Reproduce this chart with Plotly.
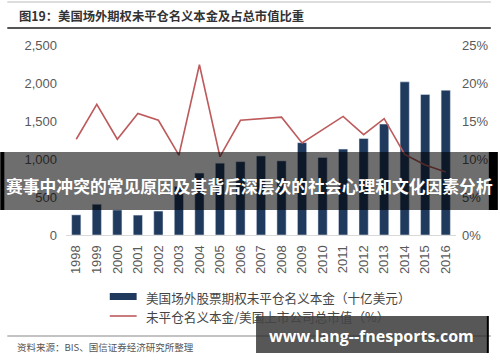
import plotly.graph_objects as go

years = [str(y) for y in range(1998, 2017)]
notional = [265, 405, 330, 262, 315, 640, 815, 945, 965, 1040, 975, 1215,
            1020, 1130, 1270, 1460, 2015, 1850, 1905]
ratio_pct = [12.6, 17.2, 12.6, 16.0, 15.1, 10.5, 22.4, 10.3, 15.1, 15.3, 15.5,
             12.1, 13.9, 15.6, 13.2, 15.3, 10.6, 9.2, 8.3]
ratio = [v / 100 for v in ratio_pct]

left_ticks = [0, 500, 1000, 1500, 2000, 2500]
right_ticks = [0, 0.05, 0.10, 0.15, 0.20, 0.25]

title_text = "图19：美国场外期权未平仓名义本金及占总市值比重"
bar_name = "美国场外股票期权未平仓名义本金（十亿美元）"
line_name = "未平仓名义本金/美国上市公司总市值（%）"
source_text = "资料来源：BIS、国信证券经济研究所整理"
banner_text = "赛事中冲突的常见原因及其背后深层次的社会心理和文化因素分析"
watermark_text = "www.lang--fnesports.com"

BAR_COLOR = "#203a5e"
LINE_COLOR = "#bd5a5c"
CJK = "Noto Sans CJK SC"
LAT = "Liberation Sans, Arial, sans-serif"

W, H = 500, 362
L, R, T, B = 66, 42, 45, 127
PW, PH = W - L - R, H - T - B

fig = go.Figure()
fig.add_trace(go.Bar(x=years, y=notional, name=bar_name, marker_color=BAR_COLOR,
                     width=0.45, yaxis="y"))
fig.add_trace(go.Scatter(x=years, y=ratio, name=line_name, mode="lines",
                         line=dict(color=LINE_COLOR, width=1.6), yaxis="y2"))

tickfont = dict(family=LAT, size=13, color="#595959")
fig.update_layout(
    width=W, height=H,
    margin=dict(l=L, r=R, t=T, b=B, pad=0),
    paper_bgcolor="white", plot_bgcolor="white",
    showlegend=False,
    xaxis=dict(type="category", tickangle=-90, tickfont=tickfont,
               showgrid=False, showline=True, linecolor="#d9d9d9", linewidth=1,
               ticks="", ticklabelstandoff=4, range=[-0.5, 18.5]),
    yaxis=dict(range=[0, 2500], tickvals=left_ticks, tickformat=",",
               tickfont=tickfont, showgrid=False, zeroline=False,
               showline=False, ticklabelstandoff=8),
    yaxis2=dict(range=[0, 0.25], tickvals=right_ticks, tickformat=".0%",
                tickfont=tickfont, overlaying="y", side="right",
                showgrid=False, zeroline=False, showline=False,
                ticklabelstandoff=5),
    bargap=0.5,
)


def px2x(px):
    return (px - L) / PW


def px2y(py):
    return (H - B - py) / PH


shapes = []
annotations = []


def ptext(text, x, y, size, color, family=CJK, xanchor="left"):
    annotations.append(dict(text=text, xref="paper", yref="paper",
                            x=px2x(x), y=px2y(y), xanchor=xanchor, yanchor="middle",
                            showarrow=False, font=dict(family=family, size=size, color=color)))


# header lines
shapes.append(dict(type="line", xref="paper", yref="paper",
                   x0=px2x(7), x1=px2x(493), y0=px2y(2), y1=px2y(2),
                   line=dict(color="#bbbbbb", width=1)))
shapes.append(dict(type="line", xref="paper", yref="paper",
                   x0=px2x(7), x1=px2x(493), y0=px2y(28), y1=px2y(28),
                   line=dict(color="#555555", width=2)))
ptext("<b>" + title_text + "</b>", 17, 16, 12.3, "#333333")

# legend
shapes.append(dict(type="rect", xref="paper", yref="paper",
                   x0=px2x(110), x1=px2x(137), y0=px2y(300), y1=px2y(293),
                   fillcolor=BAR_COLOR, line=dict(width=0)))
shapes.append(dict(type="line", xref="paper", yref="paper",
                   x0=px2x(110), x1=px2x(137), y0=px2y(316), y1=px2y(316),
                   line=dict(color=LINE_COLOR, width=1.6)))
ptext(bar_name, 144, 297, 12.6, "#444444")
ptext(line_name, 144, 316, 12.6, "#444444")

# footer
shapes.append(dict(type="line", xref="paper", yref="paper",
                   x0=px2x(7), x1=px2x(493), y0=px2y(336), y1=px2y(336),
                   line=dict(color="#888888", width=1)))
ptext(source_text, 15, 347, 9.5, "#555555")

# banner overlay
shapes.append(dict(type="rect", xref="paper", yref="paper",
                   x0=px2x(0), x1=px2x(500), y0=px2y(210), y1=px2y(152),
                   fillcolor="rgba(0,0,0,0.57)", line=dict(width=0), layer="above"))
shapes.append(dict(type="rect", xref="paper", yref="paper",
                   x0=px2x(0), x1=px2x(4), y0=px2y(210), y1=px2y(152),
                   fillcolor="black", line=dict(width=0), layer="above"))
shapes.append(dict(type="rect", xref="paper", yref="paper",
                   x0=px2x(491), x1=px2x(500), y0=px2y(210), y1=px2y(152),
                   fillcolor="black", line=dict(width=0), layer="above"))
ptext("<b>" + banner_text + "</b>", 250, 186, 16.8, "white", xanchor="center")

# watermark
shapes.append(dict(type="rect", xref="paper", yref="paper",
                   x0=px2x(257), x1=px2x(490), y0=px2y(353), y1=px2y(316),
                   fillcolor="rgba(40,40,40,0.78)", line=dict(width=0), layer="above"))
shapes.append(dict(type="line", xref="paper", yref="paper",
                   x0=px2x(490), x1=px2x(490), y0=px2y(353), y1=px2y(316),
                   line=dict(color="black", width=2), layer="above"))
ptext("<b>" + watermark_text + "</b>", 373, 336, 16, "white",
      family="Open Sans, sans-serif", xanchor="center")

fig.update_layout(shapes=shapes, annotations=annotations)
fig.write_html("out.html", config={"displayModeBar": False},
               post_script="document.body.style.margin='0';document.body.style.overflow='hidden';")
